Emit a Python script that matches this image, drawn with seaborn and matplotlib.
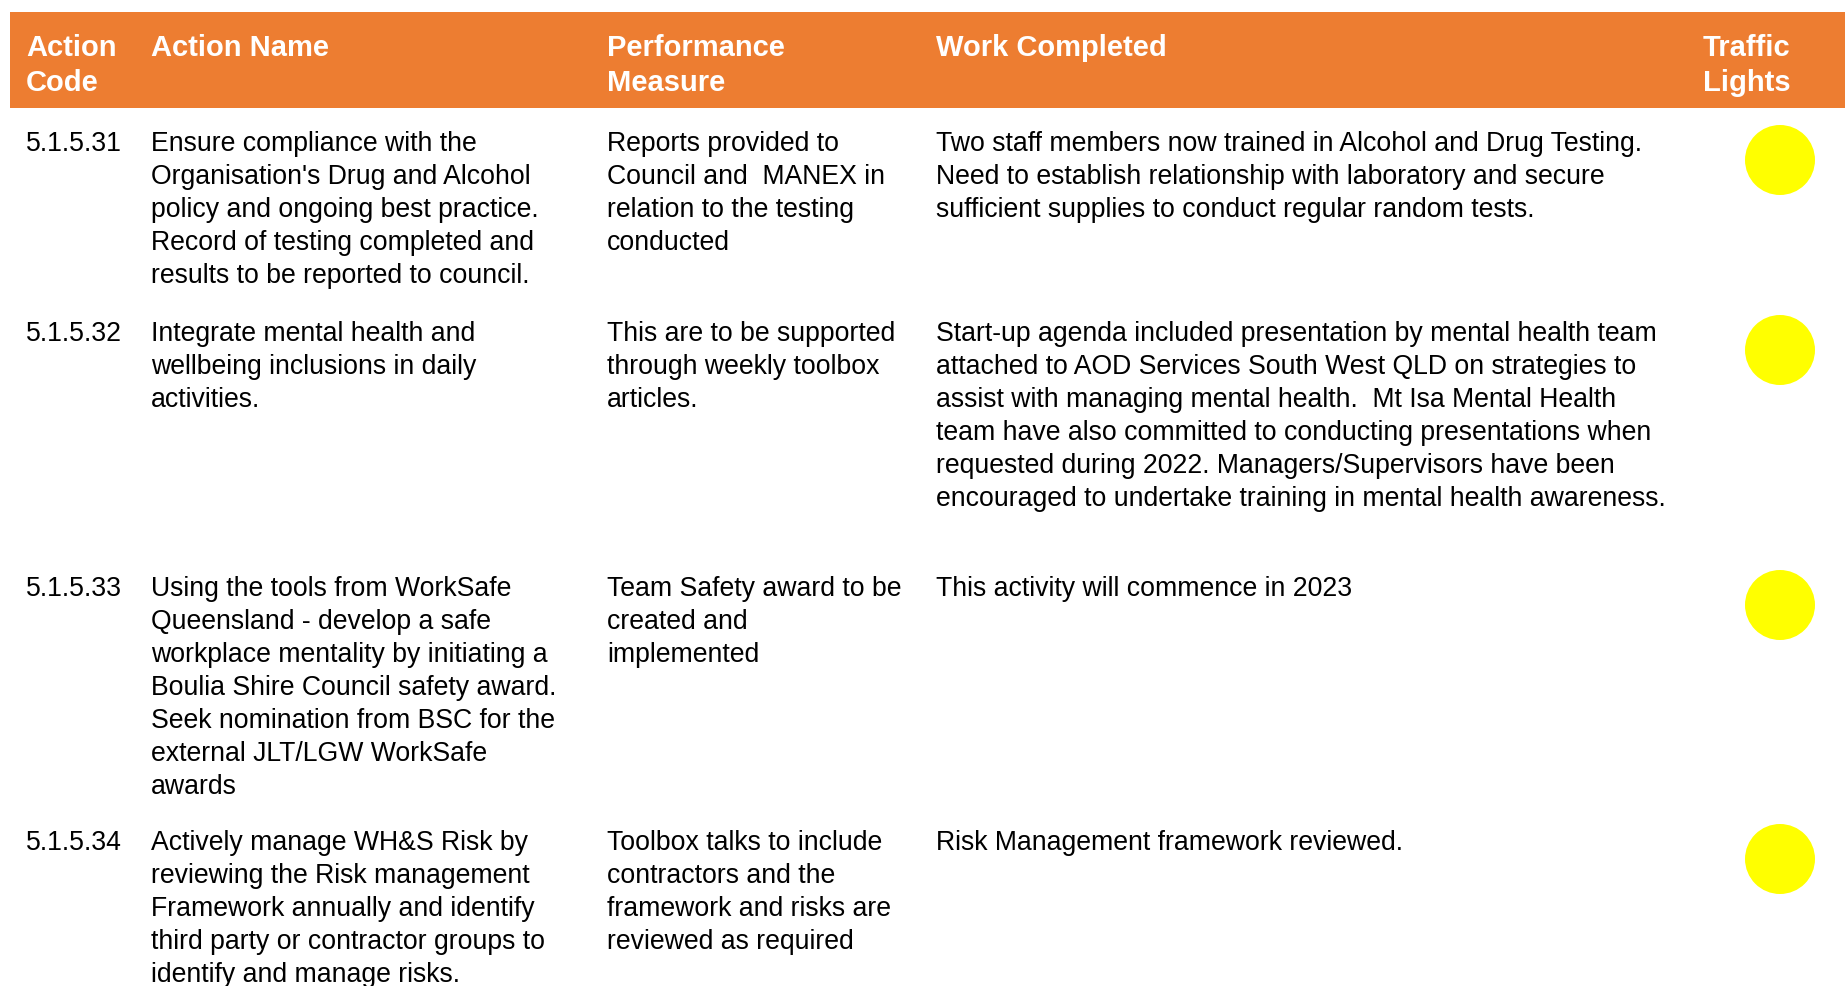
import matplotlib
matplotlib.use("Agg")
import matplotlib.pyplot as plt
import seaborn as sns
import pandas as pd
from matplotlib.patches import Rectangle

# ---------------- data ----------------
headers = [["Action", "Code"], ["Action Name"], ["Performance", "Measure"],
           ["Work Completed"], ["Traffic", "Lights"]]

action_codes = ["5.1.5.31", "5.1.5.32", "5.1.5.33", "5.1.5.34"]

action_names = [
    ["Ensure compliance with the", "Organisation's Drug and Alcohol",
     "policy and ongoing best practice.", "Record of testing completed and",
     "results to be reported to council."],
    ["Integrate mental health and", "wellbeing inclusions in daily", "activities."],
    ["Using the tools from WorkSafe", "Queensland - develop a safe",
     "workplace mentality by initiating a", "Boulia Shire Council safety award.",
     "Seek nomination from BSC for the", "external JLT/LGW WorkSafe", "awards"],
    ["Actively manage WH&S Risk by", "reviewing the Risk management",
     "Framework annually and identify", "third party or contractor groups to",
     "identify and manage risks."],
]

performance_measures = [
    ["Reports provided to", "Council and  MANEX in", "relation to the testing", "conducted"],
    ["This are to be supported", "through weekly toolbox", "articles."],
    ["Team Safety award to be", "created and", "implemented"],
    ["Toolbox talks to include", "contractors and the",
     "framework and risks are", "reviewed as required"],
]

work_completed = [
    ["Two staff members now trained in Alcohol and Drug Testing.",
     "Need to establish relationship with laboratory and secure",
     "sufficient supplies to conduct regular random tests."],
    ["Start-up agenda included presentation by mental health team",
     "attached to AOD Services South West QLD on strategies to",
     "assist with managing mental health.  Mt Isa Mental Health",
     "team have also committed to conducting presentations when",
     "requested during 2022. Managers/Supervisors have been",
     "encouraged to undertake training in mental health awareness."],
    ["This activity will commence in 2023"],
    ["Risk Management framework reviewed."],
]

traffic_lights = ["Yellow", "Yellow", "Yellow", "Yellow"]

# ---------------- layout ----------------
W, H = 1845, 986
col_x = [26, 151, 607, 936, 1703]
light_x = 1780
row_base = [151, 341, 596, 850]
line_h = 33
header_base = [56, 91]
ORANGE = "#ED7D31"
light_colors = {"Yellow": "#FFFF00", "Green": "#00B050", "Red": "#FF0000"}

sns.set_theme(style="white")
plt.rcParams["font.family"] = ["Liberation Sans", "DejaVu Sans"]

fig = plt.figure(figsize=(W / 100, H / 100), dpi=100)
ax = fig.add_axes([0, 0, 1, 1])

ax.add_patch(Rectangle((10, 12), W - 10, 96, facecolor=ORANGE, edgecolor="none", zorder=1))
for x, lines in zip(col_x, headers):
    for i, t in enumerate(lines):
        ax.text(x, header_base[i], t, color="white", fontsize=21, fontweight="bold",
                va="baseline", ha="left", zorder=3)

for r in range(len(action_codes)):
    cols = [[action_codes[r]], action_names[r], performance_measures[r], work_completed[r]]
    for x, lines in zip(col_x, cols):
        for i, t in enumerate(lines):
            ax.text(x, row_base[r] + i * line_h, t, color="black", fontsize=19.2,
                    va="baseline", ha="left", zorder=3)

df = pd.DataFrame({
    "x": [light_x] * len(traffic_lights),
    "y": [b + 9 for b in row_base],
    "status": traffic_lights,
})
sns.scatterplot(data=df, x="x", y="y", hue="status", palette=light_colors,
                s=2540, edgecolor="none", legend=False, ax=ax, zorder=4)
ax.set_xlim(0, W)
ax.set_ylim(H, 0)
ax.axis("off")

fig.savefig("out.png", dpi=100, facecolor="white")
